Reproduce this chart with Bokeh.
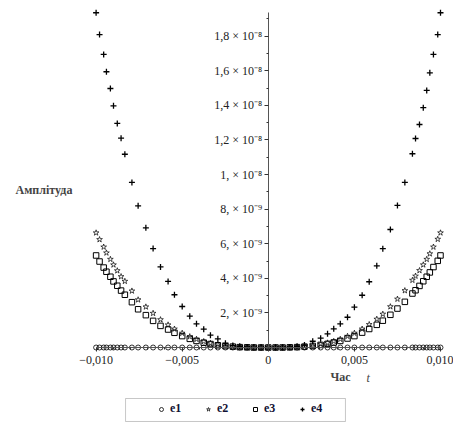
from bokeh.plotting import figure
from bokeh.models import FixedTicker, Legend, LegendItem, Label, BoxAnnotation
from bokeh.embed import file_html
from bokeh.resources import INLINE

# time samples, s
t = [-0.0100, -0.0098, -0.00956, -0.0094, -0.00917, -0.00899, -0.00877, -0.00855,
     -0.00833, -0.00792, -0.00756, -0.00711, -0.00669, -0.00626, -0.00582, -0.00545,
     -0.00500, -0.00456, -0.00417, -0.00375, -0.00336, -0.00293, -0.00249, -0.00206,
     -0.00166, -0.00123, -0.00084, -0.00042, 0.0,
     0.00042, 0.00083, 0.00125, 0.00167, 0.00210, 0.00258, 0.00304, 0.00344,
     0.00380, 0.00418, 0.00460, 0.00500, 0.00545, 0.00586, 0.00630, 0.00665,
     0.00709, 0.00750, 0.00793, 0.00837, 0.00855, 0.00878, 0.00900, 0.00920,
     0.00938, 0.00959, 0.00984, 0.0100]

# amplitudes, in units of 1e-9
e1 = [0.0, 0.0, 0.0, 0.0, 0.0, 0.0, 0.0, 0.0, 0.0, 0.0, 0.0, 0.0, 0.0, 0.0,
      0.0, 0.0, 0.0, 0.0, 0.0, 0.0, 0.0, 0.0, 0.0, 0.0, 0.0, 0.0, 0.0, 0.0, 0.0,
      0.0, 0.0, 0.0, 0.0, 0.0, 0.0, 0.0, 0.0, 0.0, 0.0, 0.0, 0.0, 0.0, 0.0,
      0.0, 0.0, 0.0, 0.0, 0.0, 0.0, 0.0, 0.0, 0.0, 0.0, 0.0, 0.0, 0.0, 0.0]

e2 = [6.63, 6.24, 5.81, 5.47, 5.10, 4.78, 4.44, 4.10, 3.83, 3.27, 2.76, 2.35,
      1.98, 1.61, 1.31, 1.07, 0.83, 0.63, 0.48, 0.35, 0.25, 0.17, 0.10, 0.06,
      0.03, 0.01, 0.0, 0.0, 0.0,
      0.0, 0.0, 0.01, 0.03, 0.06, 0.11, 0.19, 0.27, 0.36, 0.48, 0.65, 0.83,
      1.07, 1.33, 1.64, 1.93, 2.36, 2.80, 3.29, 3.89, 4.13, 4.45, 4.78, 5.10,
      5.42, 5.81, 6.26, 6.63]

e3 = [5.32, 4.97, 4.62, 4.38, 4.09, 3.82, 3.57, 3.29, 3.05, 2.62, 2.21, 1.87,
      1.54, 1.25, 1.04, 0.85, 0.66, 0.50, 0.38, 0.28, 0.20, 0.13, 0.08, 0.05,
      0.02, 0.01, 0.0, 0.0, 0.0,
      0.0, 0.0, 0.01, 0.02, 0.05, 0.09, 0.15, 0.21, 0.29, 0.38, 0.52, 0.66,
      0.86, 1.07, 1.31, 1.55, 1.89, 2.25, 2.64, 3.12, 3.31, 3.56, 3.83, 4.09,
      4.34, 4.65, 5.01, 5.32]

e4 = [19.35, 18.09, 16.94, 15.94, 14.97, 13.97, 12.95, 12.10, 11.17, 9.54, 8.19,
      6.92, 5.72, 4.66, 3.82, 3.05, 2.37, 1.81, 1.37, 1.06, 0.71, 0.50, 0.25,
      0.12, 0.07, 0.03, 0.01, 0.0, 0.0,
      0.0, 0.01, 0.03, 0.07, 0.15, 0.36, 0.54, 0.79, 1.08, 1.37, 1.75, 2.33,
      3.02, 3.80, 4.72, 5.71, 6.82, 8.21, 9.54, 11.20, 12.08, 12.89, 13.86,
      14.86, 15.88, 16.94, 18.09, 19.35]

x_ticks = [-0.01, -0.005, 0.0, 0.005, 0.01]
x_tick_labels = ["\u22120,010", "\u22120,005", "0", "0,005", "0,010"]
x_minor = [-0.009, -0.008, -0.007, -0.006, -0.004, -0.003, -0.002, -0.001,
           0.001, 0.002, 0.003, 0.004, 0.006, 0.007, 0.008, 0.009]
y_ticks = [2, 4, 6, 8, 10, 12, 14, 16, 18]
y_minor = [1, 3, 5, 7, 9, 11, 13, 15, 17, 19]
y_tick_labels = ["2, \u00d7 10\u207b\u2079", "4, \u00d7 10\u207b\u2079",
                 "6, \u00d7 10\u207b\u2079", "8, \u00d7 10\u207b\u2079",
                 "1, \u00d7 10\u207b\u2078", "1,2 \u00d7 10\u207b\u2078",
                 "1,4 \u00d7 10\u207b\u2078", "1,6 \u00d7 10\u207b\u2078",
                 "1,8 \u00d7 10\u207b\u2078"]
series_names = ["e1", "e2", "e3", "e4"]

SERIF = "Liberation Serif"

# the frame fills the whole canvas; axes cross at the origin inside it
p = figure(width=453, height=428, output_backend="svg", toolbar_location=None,
           x_range=(-0.015552, 0.010755), y_range=(-4.682, 20.058),
           min_border_left=0, min_border_right=0, min_border_top=0,
           min_border_bottom=0)
p.outline_line_color = None
p.grid.visible = False
p.background_fill_color = "white"
p.border_fill_color = "white"

p.xaxis.fixed_location = 0
p.yaxis.fixed_location = 0
p.xaxis.bounds = (-0.01, 0.01)
p.yaxis.bounds = (0, 19.35)

p.xaxis.ticker = FixedTicker(ticks=x_ticks, minor_ticks=x_minor)
p.xaxis.major_label_overrides = dict(zip(x_ticks, x_tick_labels))
p.yaxis.ticker = FixedTicker(ticks=y_ticks, minor_ticks=y_minor)
p.yaxis.major_label_overrides = dict(zip(y_ticks, y_tick_labels))

for ax in (p.xaxis, p.yaxis):
    ax.axis_line_color = "#555555"
    ax.axis_line_width = 1
    ax.major_tick_line_color = "#333333"
    ax.minor_tick_line_color = "#333333"
    ax.major_tick_in = 0
    ax.major_tick_out = 4
    ax.minor_tick_in = 0
    ax.minor_tick_out = 2
    ax.major_label_text_font = SERIF
    ax.major_label_text_font_size = "12px"
    ax.major_label_text_color = "#222222"
p.xaxis.major_label_standoff = 4
p.yaxis.major_label_standoff = 2

r1 = p.scatter(t, e1, marker="circle", size=5, fill_color=None,
               line_color="black", line_width=0.8)
r2 = p.scatter(t, e2, marker="star", size=6, fill_color=None,
               line_color="black", line_width=0.7)
r3 = p.scatter(t, e3, marker="square", size=5.5, fill_color=None,
               line_color="black", line_width=1)
r4 = p.scatter(t, e4, marker="cross", size=6, line_color="black",
               line_width=1.3)

# legend row under the chart, with its own framing box
p.add_layout(BoxAnnotation(left=-0.00829, right=0.00448, bottom=-4.277,
                           top=-2.948, fill_alpha=0, line_color="#444444",
                           line_width=1))
legend = Legend(items=[LegendItem(label=n, renderers=[r])
                       for n, r in zip(series_names, [r1, r2, r3, r4])],
                orientation="horizontal", location=(156, 12),
                glyph_width=10, glyph_height=12, label_height=12,
                label_width=14, label_standoff=4, spacing=19, padding=0,
                margin=0, label_text_font=SERIF, label_text_font_style="bold",
                label_text_font_size="12px", label_text_color="#111133",
                border_line_color=None, background_fill_alpha=0)
p.add_layout(legend, "center")

p.add_layout(Label(x=-0.01468, y=9.08, text="Амплітуда", text_font=SERIF,
                   text_font_style="bold", text_font_size="12px",
                   text_baseline="middle"))
p.add_layout(Label(x=0.00361, y=-1.68, text="Час", text_font=SERIF,
                   text_font_style="bold", text_font_size="12px",
                   text_baseline="middle"))
p.add_layout(Label(x=0.0057, y=-1.79, text="t", text_font=SERIF,
                   text_font_style="italic", text_font_size="12px",
                   text_baseline="middle"))

open("out.html", "w").write(file_html(p, INLINE))
